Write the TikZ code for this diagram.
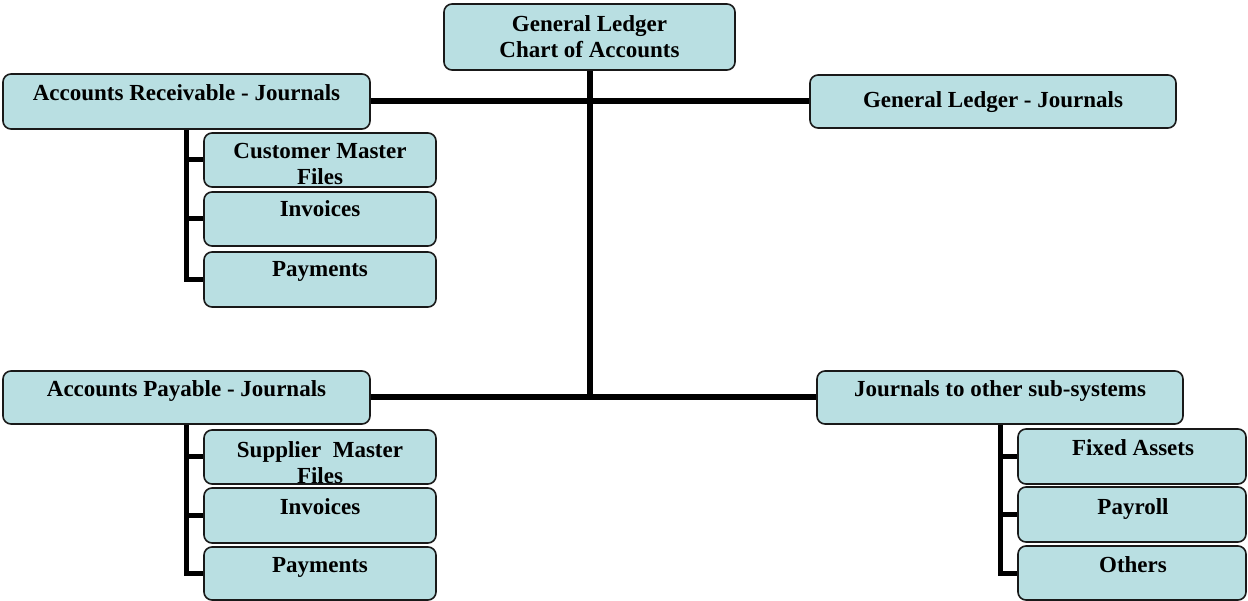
\documentclass[tikz,border=0pt]{standalone}
\usepackage{fontspec}
\setmainfont{Liberation Serif}
\definecolor{boxfill}{RGB}{185,223,226}
\definecolor{boxline}{RGB}{25,25,25}
\begin{document}
\begin{tikzpicture}[x=1pt,y=-1pt,
  box/.style={draw=boxline, line width=1.6pt, fill=boxfill, rounded corners=8pt, inner sep=0pt},
  lbl/.style={font=\fontsize{23}{26}\selectfont\bfseries, anchor=base, inner sep=0pt, align=center},
  trunk/.style={line width=6pt},
  branch/.style={line width=5pt, line join=miter}]
\useasboundingbox (0,0) rectangle (1248,601);
% boxes
\node[box, minimum width=291pt, minimum height=66pt] (top) at (589.5,37) {};
\node[box, minimum width=367pt, minimum height=55pt] (ar) at (186.5,101.5) {};
\node[box, minimum width=366pt, minimum height=53pt] (glj) at (993,101.5) {};
\node[box, minimum width=232pt, minimum height=54pt] (cmf) at (320,160) {};
\node[box, minimum width=232pt, minimum height=54pt] (inv1) at (320,219) {};
\node[box, minimum width=232pt, minimum height=55pt] (pay1) at (320,279.5) {};
\node[box, minimum width=367pt, minimum height=53pt] (ap) at (186.5,397.5) {};
\node[box, minimum width=232pt, minimum height=54pt] (smf) at (320,457) {};
\node[box, minimum width=232pt, minimum height=55pt] (inv2) at (320,515.5) {};
\node[box, minimum width=232pt, minimum height=53pt] (pay2) at (320,573.5) {};
\node[box, minimum width=366pt, minimum height=53pt] (jos) at (1000,397.5) {};
\node[box, minimum width=228pt, minimum height=55pt] (fa) at (1132,456.5) {};
\node[box, minimum width=228pt, minimum height=55pt] (pr) at (1132,514.5) {};
\node[box, minimum width=228pt, minimum height=54pt] (ot) at (1132,573) {};
% connectors
\coordinate (mid) at (top.south |- ap.east);
\draw[trunk] (top.south) -- (mid);
\draw[trunk] (ar.east) -- (glj.west);
\draw[trunk] (ap.east) -- (jos.west);
\draw[branch] (ar.south) |- (pay1.west);
\draw[branch] (ar.south |- cmf.west) -- (cmf.west);
\draw[branch] (ar.south |- inv1.west) -- (inv1.west);
\draw[branch] (ap.south) |- (pay2.west);
\draw[branch] (ap.south |- smf.west) -- (smf.west);
\draw[branch] (ap.south |- inv2.west) -- (inv2.west);
\draw[branch] (jos.south) |- (ot.west);
\draw[branch] (jos.south |- fa.west) -- (fa.west);
\draw[branch] (jos.south |- pr.west) -- (pr.west);
% labels
\node[lbl] (ttop1) at (589.5,32) {General Ledger};
\node[lbl] (ttop2) at (589.5,58) {Chart of Accounts};
\node[lbl] (tar) at (186.5,101) {Accounts Receivable - Journals};
\node[lbl] (tglj) at (993,108) {General Ledger - Journals};
\node[lbl] (tcmf1) at (320,159) {Customer Master};
\node[lbl] (tcmf2) at (320,185) {Files};
\node[lbl] (tinv1) at (320,217) {Invoices};
\node[lbl] (tpay1) at (320,277) {Payments};
\node[lbl] (tap) at (186.5,397) {Accounts Payable - Journals};
\node[lbl] (tsmf1) at (320,457) {Supplier\ \ Master};
\begin{scope}
\clip (smf.north west) rectangle (smf.south east);
\node[lbl] (tsmf2) at (320,483.5) {Files};
\end{scope}
\node[lbl] (tinv2) at (320,514) {Invoices};
\node[lbl] (tpay2) at (320,572) {Payments};
\node[lbl] (tjos) at (1000,397) {Journals to other sub-systems};
\node[lbl] (tfa) at (1133,456) {Fixed Assets};
\node[lbl] (tpr) at (1133,514) {Payroll};
\node[lbl] (tot) at (1133,572) {Others};
\end{tikzpicture}
\end{document}
